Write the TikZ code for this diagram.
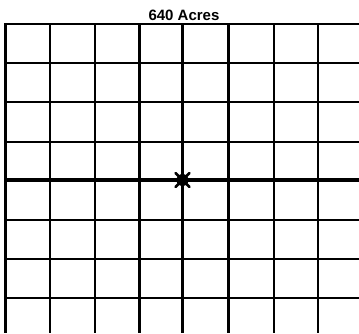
\documentclass[tikz,border=0pt]{standalone}
\usepackage{fontspec}
\setmainfont{Liberation Sans}
\begin{document}
\begin{tikzpicture}[x=1pt,y=-1pt,
  vline/.style={line width=2.6pt,black},
  hline/.style={line width=2pt,black},
  axisline/.style={line width=3.6pt,black},
  spoke/.style={line width=2.6pt,black,line cap=round}]
\useasboundingbox (0,0) rectangle (359,333);
\node (title) at (184,15) {\fontsize{15}{18}\selectfont\bfseries 640 Acres};
% horizontal lines
\foreach \y in {24,63,102,142,220,259,298}
  \draw[hline] (5.5,\y) -- (359,\y);
\draw[axisline] (4.5,180) -- (359,180);
% vertical lines
\foreach \x in {5.5,50,95,139.5,228.5,274,318}
  \draw[vline] (\x,23) -- (\x,333);
\draw[axisline] (182.5,23) -- (182.5,333);
% center marker
\coordinate (c) at (182.5,180);
\fill (c) circle (6);
\foreach \a in {0,45,...,315}
  \draw[spoke] (c) -- ++(\a:10);
\end{tikzpicture}
\end{document}
